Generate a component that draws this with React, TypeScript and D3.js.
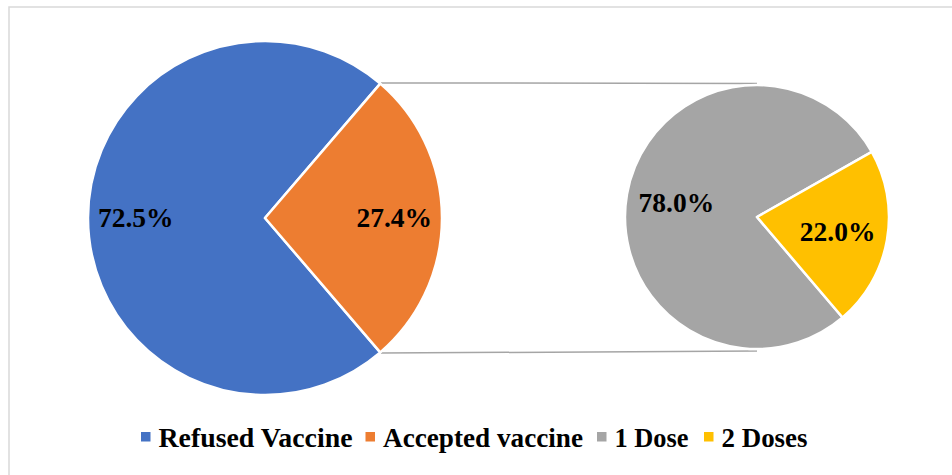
import React from "react";
import * as d3 from "d3";

const mainCategories = ["Refused Vaccine", "Accepted vaccine"];
const mainValues = [72.5, 27.4];
const subCategories = ["1 Dose", "2 Doses"];
const subValues = [78.0, 22.0];
const mainColors = ["#4472C4", "#ED7D31"];
const subColors = ["#A5A5A5", "#FFC000"];

const W = 952;
const H = 475;
const FONT = "'Liberation Serif', 'Times New Roman', serif";

export default function App() {
  const deg = Math.PI / 180;
  // main pie
  const c1 = { x: 265, y: 218 };
  const r1 = 177;
  const total1 = d3.sum(mainValues);
  const accSpan = (mainValues[1] / total1) * 2 * Math.PI;
  const start1 = Math.PI / 2 + accSpan / 2 - 2 * Math.PI;
  const pie1 = d3.pie<number>().sort(null).startAngle(start1).endAngle(start1 + 2 * Math.PI);
  const arcs1 = pie1(mainValues);
  const arc1 = d3.arc<d3.PieArcDatum<number>>().innerRadius(0).outerRadius(r1);
  const lab1 = d3.arc<d3.PieArcDatum<number>>().innerRadius(r1 * 0.73).outerRadius(r1 * 0.73);

  // secondary pie
  const c2 = { x: 757, y: 217 };
  const r2 = 132;
  const total2 = d3.sum(subValues);
  const greySpan = (subValues[0] / total2) * 2 * Math.PI;
  const yellowStart = 60.4 * deg;
  const start2 = yellowStart - greySpan;
  const pie2 = d3.pie<number>().sort(null).startAngle(start2).endAngle(start2 + 2 * Math.PI);
  const arcs2 = pie2(subValues);
  const arc2 = d3.arc<d3.PieArcDatum<number>>().innerRadius(0).outerRadius(r2);
  const lab2 = d3.arc<d3.PieArcDatum<number>>().innerRadius(r2 * 0.62).outerRadius(r2 * 0.62);

  // connector endpoints
  const acc = arcs1[1];
  const p = (a: number, r: number, c: { x: number; y: number }) => ({
    x: c.x + r * Math.sin(a),
    y: c.y - r * Math.cos(a),
  });
  const top1 = p(acc.startAngle, r1 + 1, c1);
  const bot1 = p(acc.endAngle, r1 + 1, c1);
  const top2 = { x: c2.x, y: c2.y - r2 - 1.5 };
  const bot2 = { x: c2.x, y: c2.y + r2 + 2 };

  const legendItems = [
    { label: mainCategories[0], color: mainColors[0] },
    { label: mainCategories[1], color: mainColors[1] },
    { label: subCategories[0], color: subColors[0] },
    { label: subCategories[1], color: subColors[1] },
  ];
  const legendX = [141, 365.5, 597, 704];
  const legendW = [194, 200, 74, 86];

  return (
    <svg
      width={W}
      height={H}
      style={{ position: "absolute", left: 0, top: 0, background: "#fff" }}
    >
      <rect x={9} y={7} width={W} height={H} fill="#fff" stroke="#D9D9D9" strokeWidth={1.5} />
      <line x1={top1.x} y1={top1.y} x2={top2.x} y2={top2.y} stroke="#A5A5A5" strokeWidth={1.5} />
      <line x1={bot1.x} y1={bot1.y} x2={bot2.x} y2={bot2.y} stroke="#A5A5A5" strokeWidth={1.5} />
      <g transform={`translate(${c1.x},${c1.y})`}>
        {arcs1.map((a, i) => (
          <path key={i} d={arc1(a) || ""} fill={mainColors[i]} stroke="#fff" strokeWidth={2.5} strokeLinejoin="round" />
        ))}
        {arcs1.map((a, i) => {
          const [x, y] = lab1.centroid(a);
          return (
            <text key={i} x={x} y={y} dy="0.34em" textAnchor="middle" fontFamily={FONT} fontWeight="bold" fontSize={27.5} fill="#000">
              {a.data.toFixed(1)}%
            </text>
          );
        })}
      </g>
      <g transform={`translate(${c2.x},${c2.y})`}>
        {arcs2.map((a, i) => (
          <path key={i} d={arc2(a) || ""} fill={subColors[i]} stroke="#fff" strokeWidth={2.5} strokeLinejoin="round" />
        ))}
        {arcs2.map((a, i) => {
          const [x, y] = lab2.centroid(a);
          return (
            <text key={i} x={x} y={y} dy="0.34em" textAnchor="middle" fontFamily={FONT} fontWeight="bold" fontSize={27.5} fill="#000">
              {a.data.toFixed(1)}%
            </text>
          );
        })}
      </g>
      <g>
        {legendItems.map((it, i) => (
          <g key={i}>
            <rect x={legendX[i]} y={432} width={9.5} height={9.5} fill={it.color} />
            <text
              x={legendX[i] + 17.5}
              y={446.5}
              fontFamily={FONT}
              fontWeight="bold"
              fontSize={27.5}
              fill="#000"
              textLength={legendW[i]}
              lengthAdjust="spacingAndGlyphs"
            >
              {it.label}
            </text>
          </g>
        ))}
      </g>
    </svg>
  );
}
